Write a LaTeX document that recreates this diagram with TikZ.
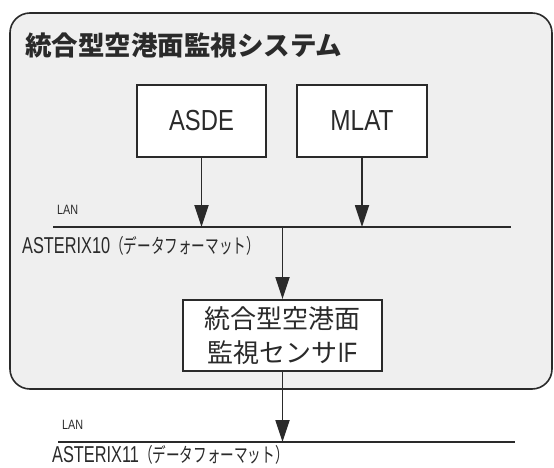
\documentclass[tikz,border=0pt]{standalone}
\usepackage{fontspec}
\usepackage{graphicx}
\setmainfont{Liberation Sans}
\newfontfamily\jp{Noto Sans CJK JP}
\usetikzlibrary{arrows.meta}
\definecolor{ink}{HTML}{2A2A2A}
\definecolor{panel}{HTML}{EFEFEF}
\newcommand\narrowtxt[2]{\scalebox{#1}[1]{#2}}
\tikzset{
  box/.style={draw=ink, line width=1.8pt, fill=white, inner sep=0pt, text=ink},
  flow/.style={draw=ink, line width=1.8pt, -{Triangle[length=22pt,width=14pt]}},
  bus/.style={draw=ink, line width=2pt},
  lbl/.style={inner sep=0pt, anchor=west, text=ink},
}
\begin{document}
\begin{tikzpicture}[x=1pt,y=-1pt]
\useasboundingbox (0,0) rectangle (554,468);
\fill[white] (0,0) rectangle (554,468);
\path[draw=ink, line width=1.6pt, fill=panel, rounded corners=20pt] (10,13) rectangle (552,389);

\node[lbl] (title) at (25,45) {\jp\fontsize{26.5}{30}\selectfont\bfseries 統合型空港面監視システム};

\node[box, minimum width=129pt, minimum height=72pt] (asde) at (201.5,121)
  {\fontsize{29}{34}\selectfont\narrowtxt{0.82}{ASDE}};
\node[box, minimum width=130pt, minimum height=72pt] (mlat) at (362,121)
  {\fontsize{29}{34}\selectfont\narrowtxt{0.84}{MLAT}};

\coordinate (b1w) at (53,227);
\coordinate (b1e) at (511,227);
\draw[bus] (b1w) -- (b1e);
\node[lbl] (lan1) at (57,210) {\fontsize{13.5}{15}\selectfont\narrowtxt{0.8}{LAN}};
\node[lbl] (ast10) at (22,246) {\fontsize{23}{26}\selectfont\narrowtxt{0.71}{ASTERIX10}{\jp\fontsize{20}{24}\selectfont\narrowtxt{0.68}{（データフォーマット）}}};

\node[box, minimum width=199pt, minimum height=71pt, align=center,
      font={\jp\fontsize{26}{34}\selectfont}] (ifbox) at (282.5,335.5)
  {統合型空港面\\監視センサ{\rmfamily\fontsize{28}{34}\selectfont\narrowtxt{0.78}{IF}}};

\coordinate (b2w) at (58,442);
\coordinate (b2e) at (515,442);
\draw[bus] (b2w) -- (b2e);
\node[lbl] (lan2) at (62,425) {\fontsize{13.5}{15}\selectfont\narrowtxt{0.8}{LAN}};
\node[lbl] (ast11) at (52,455) {\fontsize{23}{26}\selectfont\narrowtxt{0.71}{ASTERIX11}{\jp\fontsize{20}{24}\selectfont\narrowtxt{0.68}{（データフォーマット）}}};

\draw[flow] (asde.south) -- (asde.south |- b1w);
\draw[flow] (mlat.south) -- (mlat.south |- b1w);
\draw[flow] (ifbox.north |- b1w) -- (ifbox.north);
\draw[flow] (ifbox.south) -- (ifbox.south |- b2w);
\end{tikzpicture}
\end{document}
